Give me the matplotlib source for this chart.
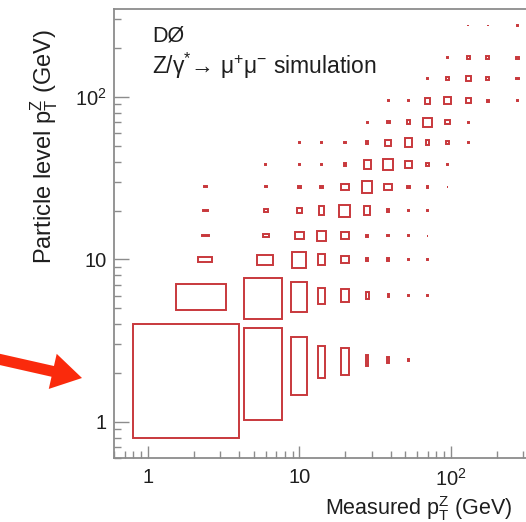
import numpy as np
import matplotlib
matplotlib.use('Agg')
import matplotlib.pyplot as plt
from matplotlib.patches import Rectangle, FancyArrow
from matplotlib.ticker import FixedLocator, FixedFormatter, LogLocator, NullFormatter

plt.rcParams['font.family'] = ['Liberation Sans', 'DejaVu Sans']
plt.rcParams['mathtext.fontset'] = 'custom'
plt.rcParams['mathtext.rm'] = 'Liberation Sans'
plt.rcParams['mathtext.it'] = 'Liberation Sans:italic'
plt.rcParams['mathtext.default'] = 'regular'

# pT binning, same for measured and particle level (GeV)
pt_edges = [0.8, 4, 8, 12, 16, 24, 32, 45, 60, 80, 110, 150, 200, 350]

# migration matrix: rows = particle-level bin, columns = measured bin
migration = [
    [10000, 7396, 3364, 1156,  812,  156,   42,    4,    0,    0,   0,   0,   0],
    [ 2916, 7396, 3721, 1225,  784,  196,   36,   16,    9,    0,   0,   0,   0],
    [  256, 1332, 2916, 1600,  729,  169,   64,   16,    9,    0,   0,   0,   0],
    [   49,  169, 1296, 2209, 1089,  144,   49,   25,    4,    0,   0,   0,   0],
    [   36,   64,  400,  900, 1681,  961,  100,   25,    4,    0,   0,   0,   0],
    [   16,   36,   64,  144,  900, 3364, 1089,  144,   49,    4,   0,   0,   0],
    [    0,    4,   25,   36,  100, 1444, 1936, 1089,  196,   25,   0,   0,   0],
    [    0,    0,    4,    9,   36,  144,  900, 1681,  400,  144,   9,   0,   0],
    [    0,    0,    0,    0,    0,   25,  144,  400, 2025,  400,  25,   0,   0],
    [    0,    0,    0,    0,    0,    0,    9,   49,  676, 1089, 625, 100,  25],
    [    0,    0,    0,    0,    0,    0,    0,    0,   64,  225, 625, 225,  64],
    [    0,    0,    0,    0,    0,    0,    0,    0,    0,    9, 225, 225, 100],
    [    0,    0,    0,    0,    0,    0,    0,    0,    0,    0,   1,   9,  16],
]

major_ticks = [1, 10, 100]
major_labels = ['1', '10', '$10^{2}$']
axis_range = (0.6, 350)

BOX_COLOR = '#c8383c'
AXIS_GREY = '#8c8c8c'
TEXT_COLOR = '#1e1e1e'

W, H = 526, 522
fig = plt.figure(figsize=(W / 100, H / 100), dpi=100)
fig.set_facecolor('white')

# frame runs past the right edge of the canvas
ax = fig.add_axes([114.4 / W, 1 - 458 / H, 419 / W, 449.4 / H])
ax.set_xscale('log')
ax.set_yscale('log')
ax.set_xlim(*axis_range)
ax.set_ylim(*axis_range)

# box plot: box centred in its bin, area proportional to content
counts = np.array(migration, dtype=float)
edges = np.array(pt_edges)
cmax = counts.max()
for i in range(counts.shape[0]):
    ylo, yhi = edges[i], edges[i + 1]
    for j in range(counts.shape[1]):
        c = counts[i, j]
        if c <= 0:
            continue
        xlo, xhi = edges[j], edges[j + 1]
        r = np.sqrt(c / cmax)
        xc, yc = 0.5 * (xlo + xhi), 0.5 * (ylo + yhi)
        hx, hy = 0.5 * r * (xhi - xlo), 0.5 * r * (yhi - ylo)
        ax.add_patch(Rectangle((xc - hx, yc - hy), 2 * hx, 2 * hy,
                               fill=False, edgecolor=BOX_COLOR, linewidth=1.4))

for side in ['left', 'bottom', 'top', 'right']:
    ax.spines[side].set_color(AXIS_GREY)
    ax.spines[side].set_linewidth(1.3)

for axis in [ax.xaxis, ax.yaxis]:
    axis.set_major_locator(FixedLocator(major_ticks))
    axis.set_major_formatter(FixedFormatter(major_labels))
    axis.set_minor_locator(LogLocator(base=10, subs=np.arange(2, 10)))
    axis.set_minor_formatter(NullFormatter())

ax.tick_params(which='both', direction='in', color=AXIS_GREY, width=1.0,
               labelcolor=TEXT_COLOR, labelsize=14.5, top=False, right=False)
ax.tick_params(axis='x', which='major', length=8.5, pad=7)
ax.tick_params(axis='x', which='minor', length=5)
ax.tick_params(axis='y', which='major', length=10.5, pad=5.5)
ax.tick_params(axis='y', which='minor', length=5)

# titles and labels, placed in canvas pixels
def px(x, y):
    return x / W, 1 - y / H

fig.text(*px(512, 515), r'Measured $p_{T}^{Z}$ (GeV)', ha='right', va='baseline',
         fontsize=15.5, color=TEXT_COLOR)
fig.text(*px(44, 29), r'Particle level $p_{T}^{Z}$ (GeV)', ha='center', va='top',
         rotation=90, fontsize=17, color=TEXT_COLOR)
fig.text(*px(152, 42), 'DØ', ha='left', va='baseline', fontsize=15.5, color=TEXT_COLOR)
fig.text(*px(152, 74), r'Z/γ$^{*}$→ μ$^{+}$μ$^{-}$ simulation', ha='left', va='baseline',
         fontsize=16.5, color=TEXT_COLOR)

# pointer arrow on the lowest bin
ov = fig.add_axes([0, 0, 1, 1], zorder=5)
ov.set_xlim(0, W)
ov.set_ylim(H, 0)
ov.axis('off')
ov.add_patch(FancyArrow(-2, 359, 84, 19, width=11, head_width=36, head_length=30,
                        length_includes_head=True, color='#fa2a0c', linewidth=0))

fig.savefig('out.png', dpi=100)
